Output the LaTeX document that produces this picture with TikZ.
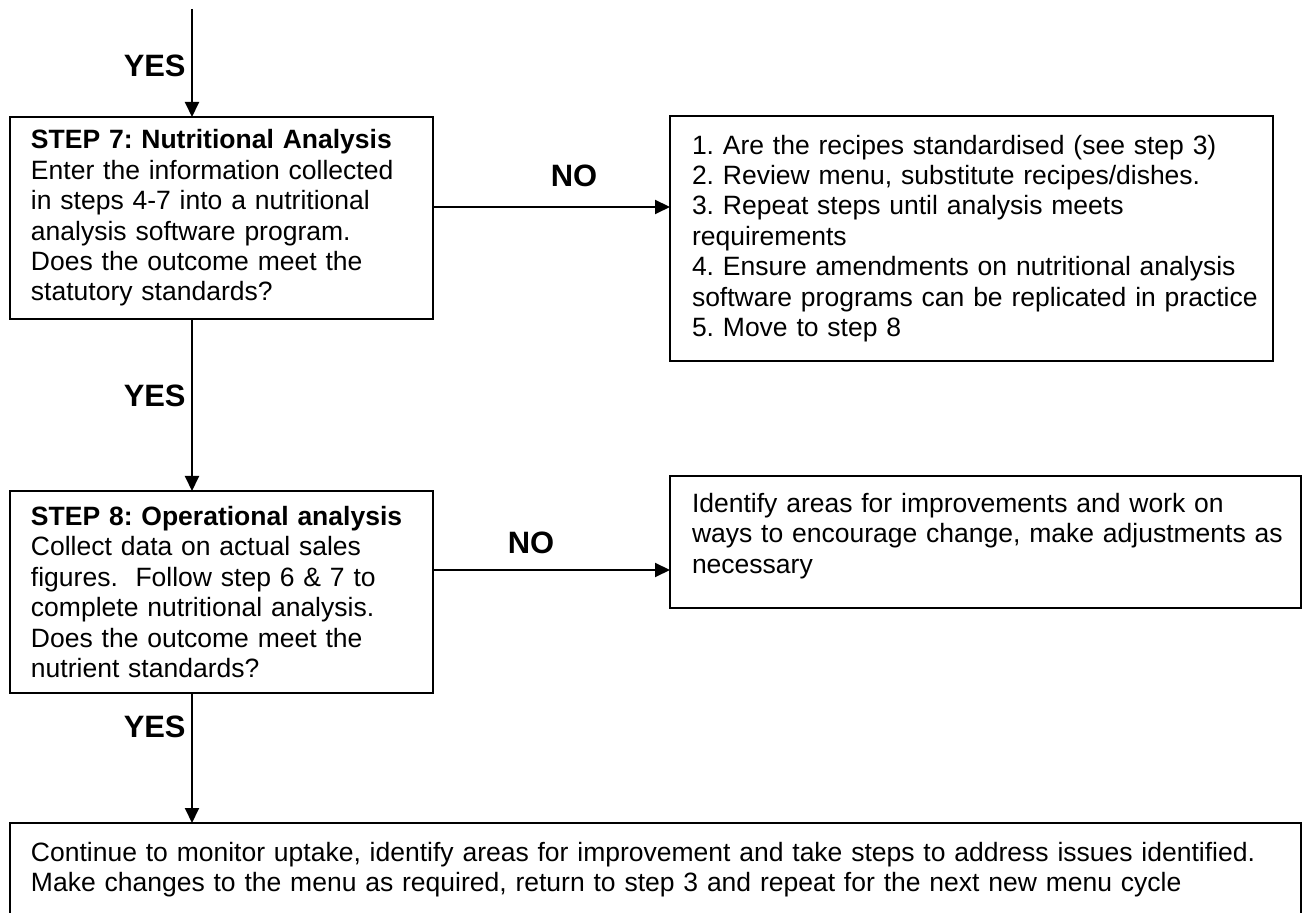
\documentclass[tikz,border=0pt]{standalone}
\usepackage{fontspec}
\setmainfont{Liberation Sans}
\usepackage{tikz}
\usetikzlibrary{arrows.meta}
\frenchspacing

\begin{document}
\begin{tikzpicture}[x=0.5pt, y=-0.5pt,
    box/.style={draw, line width=1pt, outer sep=0pt, anchor=north west, align=left,
      inner xsep=10.5pt, inner ysep=0pt, font=\fontsize{13.25}{15.2}\selectfont},
    answer/.style={font=\bfseries\fontsize{15.45}{18}\selectfont, inner sep=0pt},
    flow/.style={line width=1pt, -{Triangle[length=7.5pt, width=7pt]}}]
      \useasboundingbox (0, 0) rectangle (1306, 913);
      \clip (0, 0) rectangle (1306, 913);

      \node[box, text width=190.5pt, minimum height=101pt] (step7) at (10, 117)
        {\textbf{STEP 7: Nutritional Analysis}\\
         Enter the information collected\\
         in steps 4-7 into a nutritional\\
         analysis software program.\\
         Does the outcome meet the\\
         statutory standards?};
      \node[box, inner xsep=11pt, text width=279.5pt, minimum height=122.5pt] (fix7) at (670, 116)
        {1. Are the recipes standardised (see step 3)\\
         2. Review menu, substitute recipes/dishes.\\
         3. Repeat steps until analysis meets\\
         requirements\\
         4. Ensure amendments on nutritional analysis\\
         \mbox{software programs can be replicated in practice}\\
         5. Move to step 8};

      \node[box, text width=190.5pt, minimum height=101pt] (step8) at (10, 491)
        {\textbf{STEP 8: Operational analysis}\\
         Collect data on actual sales\\
         figures.~ Follow step 6 \& 7 to\\
         complete nutritional analysis.\\
         Does the outcome meet the\\
         nutrient standards?};
      \node[box, inner xsep=11pt, text width=293.5pt, minimum height=66pt] (fix8) at (670, 476)
        {Identify areas for improvements and work on\\
         \mbox{ways to encourage change, make adjustments as}\\
         necessary\rule[-8.8pt]{0pt}{8.8pt}};

      \node[box, text width=624.5pt, minimum height=46.5pt] (review) at (10, 823)
        {Continue to monitor uptake, identify areas for improvement and take steps to address issues identified.\\
         Make changes to the menu as required, return to step 3 and repeat for the next new menu cycle};

      \coordinate (start) at (192, 9);
      \draw[flow] (start) -- (start |- step7.north);
      \draw[flow] (step7.south -| start) -- (step8.north -| start);
      \draw[flow] (step8.south -| start) -- (review.north -| start);
      \node[answer, anchor=base east] (yes6) at (186, 77) {YES};
      \node[answer, anchor=base east] (yes7) at (186, 407) {YES};
      \node[answer, anchor=base east] (yes8) at (186, 738) {YES};

      \coordinate (out7) at (0, 207);
      \coordinate (out8) at (0, 570);
      \draw[flow] (step7.east |- out7) -- (fix7.west |- out7);
      \draw[flow] (step8.east |- out8) -- (fix8.west |- out8);
      \node[answer, anchor=base] (no7) at (574, 187) {NO};
      \node[answer, anchor=base] (no8) at (531, 554) {NO};

    \end{tikzpicture}
\end{document}
